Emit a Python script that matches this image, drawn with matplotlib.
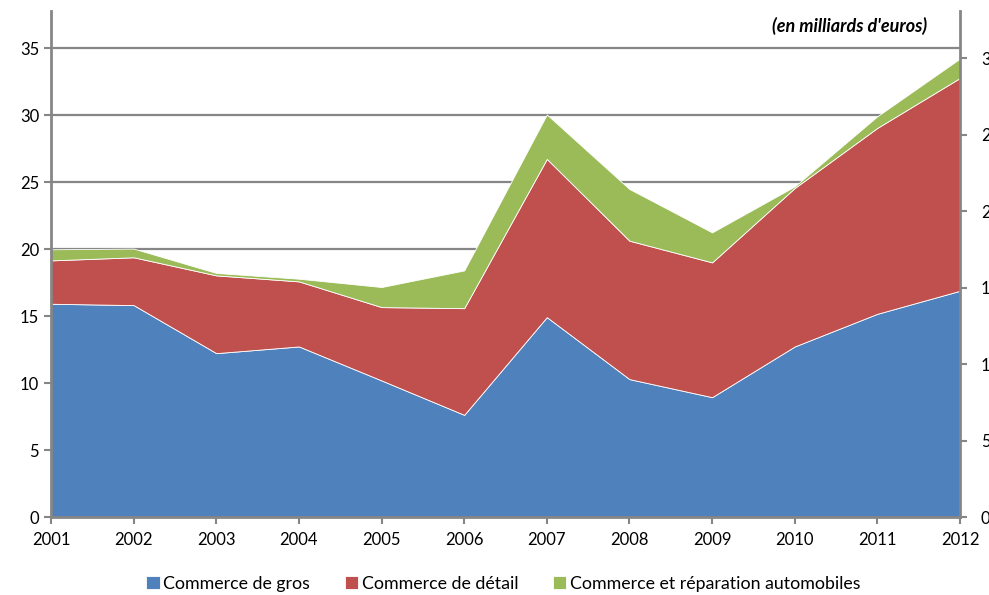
import matplotlib
matplotlib.use("Agg")
import matplotlib.pyplot as plt
import numpy as np

plt.rcParams['font.family'] = ['Lato', 'DejaVu Sans']

# values (billions of euros)
years = [2001, 2002, 2003, 2004, 2005, 2006, 2007, 2008, 2009, 2010, 2011, 2012]
gros = [15.93, 15.83, 12.24, 12.74, 10.2, 7.63, 14.93, 10.3, 8.95, 12.74, 15.18, 16.9]
detail = [3.24, 3.57, 5.81, 4.86, 5.48, 7.97, 11.82, 10.34, 10.07, 11.84, 13.89, 15.9]
auto = [0.83, 0.65, 0.18, 0.2, 1.5, 2.82, 3.32, 3.86, 2.24, 0.12, 0.87, 1.45]
labels = ["Commerce de gros", "Commerce de détail", "Commerce et réparation automobiles"]
colors = ["#4F81BD", "#C0504D", "#9BBB59"]

left_ticks = [0, 5, 10, 15, 20, 25, 30, 35]
right_ticks = [0, 5, 10, 15, 20, 25, 30]

grey = "#868686"

fig = plt.figure(figsize=(9.89, 5.95), dpi=100)
ax = fig.add_axes([51 / 989, 78 / 595, 909 / 989, 506 / 595])

ax.stackplot(years, gros, detail, auto, colors=colors, labels=labels,
             edgecolor="white", linewidth=0.6)

ax.set_xlim(years[0], years[-1])
ax.set_ylim(0, 37.8)
ax.set_yticks(left_ticks)
ax.set_xticks(years)
ax.grid(axis="y", color=grey, linewidth=1.6)
ax.set_axisbelow(True)
ax.tick_params(axis="both", labelsize=12, color=grey, width=1.5, length=5)
ax.tick_params(axis="x", pad=6)

for side in ["top", "right"]:
    ax.spines[side].set_visible(False)
for side in ["left", "bottom"]:
    ax.spines[side].set_color(grey)
    ax.spines[side].set_linewidth(2)

# secondary axis on the right (its labels run off the edge, as in the original)
ax2 = ax.twinx()
ax2.set_ylim(0, 33.1)
ax2.set_yticks(right_ticks)
ax2.tick_params(axis="y", labelsize=12, color=grey, width=1.5, length=5, pad=10)
for side in ["top", "left", "bottom"]:
    ax2.spines[side].set_visible(False)
ax2.spines["right"].set_color(grey)
ax2.spines["right"].set_linewidth(2)

ax.text(0.964, 0.988, "(en milliards d'euros)", transform=ax.transAxes,
        ha="right", va="top", fontsize=13, fontweight="bold", fontstyle="italic")

fig.legend(loc="lower center", bbox_to_anchor=(0.509, -0.022), ncol=3, frameon=False,
           fontsize=12.8, handlelength=0.75, handleheight=0.75, handletextpad=0.2,
           columnspacing=1.95)

fig.savefig("out.png", dpi=100)
